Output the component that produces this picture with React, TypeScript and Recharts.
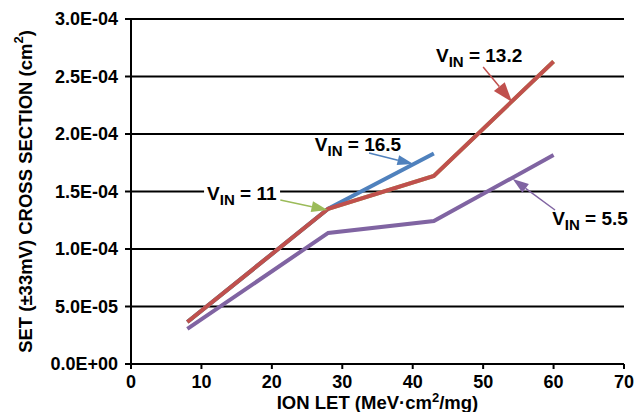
import {
  CartesianGrid,
  Line,
  LineChart,
  ReferenceDot,
  ReferenceLine,
  XAxis,
  YAxis,
} from "recharts";

// ion LET (MeV·cm²/mg) at each measured point
const letValues = [8, 28, 43, 60];

// SET cross section (cm²) per input voltage
const vin11 = [3.65e-5, 1.35e-4, 1.635e-4, 2.63e-4];
const vin165 = [3.65e-5, 1.35e-4, 1.83e-4, null];
const vin132 = [3.65e-5, 1.35e-4, 1.635e-4, 2.63e-4];
const vin55 = [3.05e-5, 1.14e-4, 1.243e-4, 1.817e-4];

const xTicks = [0, 10, 20, 30, 40, 50, 60, 70];
const yTicks = [0, 5e-5, 1e-4, 1.5e-4, 2e-4, 2.5e-4, 3e-4];
const yTickLabels = ["0.0E+00", "5.0E-05", "1.0E-04", "1.5E-04", "2.0E-04", "2.5E-04", "3.0E-04"];

// callouts: label anchor, arrow tail and arrow tip, in data units
const callouts = [
  { vin: "13.2", color: "#C0504D", lx: 43.3, ly: 2.626e-4, tail: [50.0, 2.583e-4], tip: [54.1, 2.278e-4], head: 20, headW: 14 },
  { vin: "16.5", color: "#4F81BD", lx: 26.1, ly: 1.852e-4, tail: [33.8, 1.835e-4], tip: [40.1, 1.739e-4], head: 16, headW: 10 },
  { vin: "11", color: "#9BBB59", lx: 10.8, ly: 1.426e-4, tail: [21.2, 1.426e-4], tip: [27.9, 1.339e-4], head: 16, headW: 11 },
  { vin: "5.5", color: "#8064A2", lx: 59.8, ly: 1.209e-4, tail: [60.2, 1.339e-4], tip: [54.2, 1.609e-4], head: 16, headW: 11 },
];

const rows = letValues.map((x, i) => ({
  let: x,
  v11: vin11[i],
  v165: vin165[i],
  v132: vin132[i],
  v55: vin55[i],
}));

const FONT = "'Liberation Sans', Arial, sans-serif";

function Arrow(props: any) {
  const { x1, y1, x2, y2, color, head, headW } = props;
  const dx = x2 - x1;
  const dy = y2 - y1;
  const len = Math.sqrt(dx * dx + dy * dy) || 1;
  const ux = dx / len;
  const uy = dy / len;
  const bx = x2 - ux * head;
  const by = y2 - uy * head;
  const nx = -uy * (headW / 2);
  const ny = ux * (headW / 2);
  return (
    <g>
      <line x1={x1} y1={y1} x2={bx} y2={by} stroke={color} strokeWidth={1.5} />
      <polygon
        points={`${x2},${y2} ${bx + nx},${by + ny} ${bx - nx},${by - ny}`}
        fill={color}
      />
    </g>
  );
}

function VinLabel({ cx, cy, vin, bg }: any) {
  return (
    <g>
      {bg && <rect x={cx - 3} y={cy - 15} width={76} height={22} fill="#fff" />}
      <text
        x={cx}
        y={cy}
        fontFamily={FONT}
        fontWeight="bold"
        fontSize={19}
        fill="#000"
        style={{ whiteSpace: "pre" }}
      >
        <tspan>V</tspan>
        <tspan fontSize={15} dy={5}>IN</tspan>
        <tspan dy={-5}>{` = ${vin}`}</tspan>
      </text>
    </g>
  );
}

function YTitle(props: any) {
  const vb = props.viewBox || {};
  const cy = vb.y + vb.height / 2;
  const x = 25;
  return (
    <text
      x={x}
      y={cy}
      transform={`rotate(-90, ${x}, ${cy})`}
      textAnchor="middle"
      dominantBaseline="central"
      fontFamily={FONT}
      fontWeight="bold"
      fontSize={18.5}
      fill="#000"
    >
      SET (±33mV) CROSS SECTION (cm
      <tspan fontSize={13} dy={-7}>2</tspan>
      <tspan dy={7}>)</tspan>
    </text>
  );
}

function XTitle(props: any) {
  const vb = props.viewBox || {};
  const cx = vb.x + vb.width / 2;
  return (
    <text
      x={cx}
      y={409}
      textAnchor="middle"
      fontFamily={FONT}
      fontWeight="bold"
      fontSize={18.5}
      fill="#000"
    >
      ION LET (MeV·cm
      <tspan fontSize={13} dy={-7}>2</tspan>
      <tspan dy={7}>/mg)</tspan>
    </text>
  );
}

export default function App() {
  const tick = { fill: "#000", fontSize: 18, fontWeight: "bold", fontFamily: FONT };
  return (
    <div style={{ width: 636, height: 412, background: "#fff" }}>
      <style>{"body{margin:0}"}</style>
      <LineChart
        width={636}
        height={412}
        data={rows}
        margin={{ top: 19, right: 12, left: 0, bottom: 0 }}
      >
        <CartesianGrid vertical={false} stroke="#000" strokeWidth={2} />
        <XAxis
          type="number"
          dataKey="let"
          domain={[0, 70]}
          ticks={xTicks}
          height={48}
          tick={tick}
          tickSize={5}
          tickMargin={6}
          axisLine={{ stroke: "#000", strokeWidth: 2 }}
          tickLine={{ stroke: "#000", strokeWidth: 2 }}
          label={{ content: XTitle }}
        />
        <YAxis
          type="number"
          domain={[0, 3e-4]}
          ticks={yTicks}
          width={131}
          tick={tick}
          tickSize={6}
          tickMargin={7}
          tickFormatter={(v: number) => yTickLabels[yTicks.indexOf(v)] ?? String(v)}
          axisLine={{ stroke: "#000", strokeWidth: 2 }}
          tickLine={{ stroke: "#000", strokeWidth: 2 }}
          label={{ content: YTitle }}
        />
        <Line dataKey="v11" stroke="#9BBB59" strokeWidth={4} dot={false} activeDot={false} isAnimationActive={false} />
        <Line dataKey="v165" stroke="#4F81BD" strokeWidth={4} dot={false} activeDot={false} isAnimationActive={false} />
        <Line dataKey="v132" stroke="#C0504D" strokeWidth={4} dot={false} activeDot={false} isAnimationActive={false} />
        <Line dataKey="v55" stroke="#8064A2" strokeWidth={4} dot={false} activeDot={false} isAnimationActive={false} />
        {callouts.map((c) => (
          <ReferenceLine
            key={`a-${c.vin}`}
            segment={[
              { x: c.tail[0], y: c.tail[1] },
              { x: c.tip[0], y: c.tip[1] },
            ]}
            shape={(p: any) => <Arrow {...p} color={c.color} head={c.head} headW={c.headW} />}
          />
        ))}
        {callouts.map((c) => (
          <ReferenceDot
            key={`l-${c.vin}`}
            x={c.lx}
            y={c.ly}
            r={0}
            shape={(p: any) => <VinLabel cx={p.cx} cy={p.cy} vin={c.vin} bg={c.vin === "11"} />}
          />
        ))}
      </LineChart>
    </div>
  );
}
